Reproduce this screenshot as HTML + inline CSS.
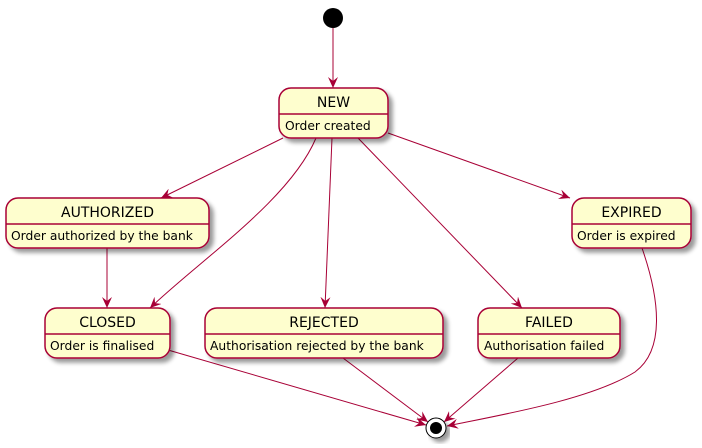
<!DOCTYPE html>
<html><head><meta charset="utf-8"><style>body{margin:0;background:#fff}svg{display:block}</style></head><body>
<svg width="702" height="448" xmlns="http://www.w3.org/2000/svg" font-family="'DejaVu Sans','Liberation Sans',sans-serif">
<defs>
<filter id="sh" x="-10%" y="-10%" width="130%" height="140%"><feGaussianBlur in="SourceAlpha" stdDeviation="2"/><feOffset dx="4" dy="4"/><feComponentTransfer><feFuncA type="linear" slope="0.4"/></feComponentTransfer><feMerge><feMergeNode/><feMergeNode in="SourceGraphic"/></feMerge></filter>
<marker id="a" viewBox="0 0 12 10" refX="11" refY="5" markerWidth="12" markerHeight="10" markerUnits="userSpaceOnUse" orient="auto"><path d="M0,0 L11,5 L0,10 L4,5 Z" fill="#A80036"/></marker>
</defs>
<g stroke="#A80036" stroke-width="1" fill="none" marker-end="url(#a)">
<path d="M333,28 L333,88"/>
<path d="M283,138 L161,198"/>
<path d="M316,138 C290,200 200,260 150,308"/>
<path d="M332,138 L325,308"/>
<path d="M358,138 L522,308"/>
<path d="M388,133 L570,198"/>
<path d="M107,248 L107,308"/>
<path d="M168,350 L426,425"/>
<path d="M343,358 L428,422"/>
<path d="M518,358 L444,422"/>
<path d="M642,248 C660,300 665,350 635,372 C590,400 500,415 447,426"/>
</g>
<circle cx="333" cy="18" r="10" fill="#000"/>
<g filter="url(#sh)"><circle cx="436" cy="428" r="10" fill="#fff" stroke="#000" stroke-width="1"/></g>
<circle cx="436" cy="428" r="6" fill="#000"/>
<g stroke="#A80036" stroke-width="1.5" fill="#FEFECE">
<rect x="279" y="88" width="109" height="50" rx="12" filter="url(#sh)"/>
<rect x="6" y="198" width="203" height="50" rx="12" filter="url(#sh)"/>
<rect x="45" y="308" width="125" height="50" rx="12" filter="url(#sh)"/>
<rect x="205" y="308" width="238" height="50" rx="12" filter="url(#sh)"/>
<rect x="478" y="308" width="142" height="50" rx="12" filter="url(#sh)"/>
<rect x="572" y="198" width="119" height="50" rx="12" filter="url(#sh)"/>
<path d="M279,114H388M6,224H209M45,334H170M205,334H443M478,334H620M572,224H691"/>
</g>
<g font-size="14" text-anchor="middle" fill="#000">
<text x="333.5" y="107">NEW</text>
<text x="107.5" y="217">AUTHORIZED</text>
<text x="107.5" y="327">CLOSED</text>
<text x="324" y="327">REJECTED</text>
<text x="549" y="327">FAILED</text>
<text x="631.5" y="217">EXPIRED</text>
</g>
<g font-size="12.3" fill="#000">
<text x="285" y="130">Order created</text>
<text x="11" y="240">Order authorized by the bank</text>
<text x="50" y="350">Order is finalised</text>
<text x="210" y="350">Authorisation rejected by the bank</text>
<text x="484" y="350">Authorisation failed</text>
<text x="577" y="240">Order is expired</text>
</g>
</svg>
</body></html>
